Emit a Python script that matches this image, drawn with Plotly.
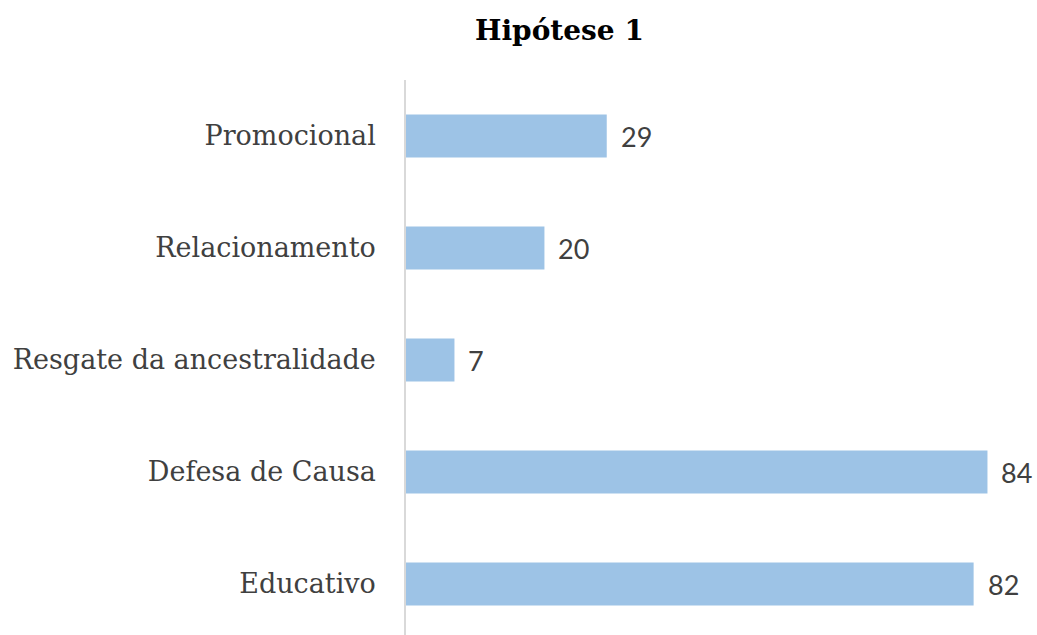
import plotly.graph_objects as go

categories = ["Educativo", "Defesa de Causa", "Resgate da ancestralidade", "Relacionamento", "Promocional"]
values = [82, 84, 7, 20, 29]
title_text = "Hipótese 1"

fig = go.Figure()
fig.add_trace(go.Bar(
    x=values, y=categories, orientation="h",
    marker=dict(color="#9DC3E6", line=dict(width=0)),
    width=0.385, hoverinfo="skip",
))
for c, v in zip(categories, values):
    fig.add_annotation(x=v, y=c, text=str(v), showarrow=False, xanchor="left",
                       xshift=12, font=dict(family="Lato", size=27, color="#404040"))

fig.add_annotation(xref="paper", yref="paper", x=(559 - 406) / 623, y=1 + 50 / 555,
                   text="<b>" + title_text + "</b>", showarrow=False, xanchor="center",
                   yanchor="middle", font=dict(family="DejaVu Serif", size=28, color="#000000"))

fig.update_layout(
    width=1037, height=635,
    margin=dict(l=406, r=8, t=80, b=0),
    plot_bgcolor="white", paper_bgcolor="white",
    showlegend=False,
    xaxis=dict(range=[0, 90], visible=False, fixedrange=True),
    yaxis=dict(range=[-0.455, 4.5], showline=True, linecolor="#D9D9D9", linewidth=1.5,
               showgrid=False, zeroline=False, ticks="", ticklabelstandoff=23,
               tickfont=dict(family="DejaVu Serif", size=27, color="#404040"),
               categoryorder="array", categoryarray=categories, fixedrange=True),
)
fig.write_html("out.html", config={"displayModeBar": False},
               post_script="document.body.style.margin='0';document.body.style.overflow='hidden';")
